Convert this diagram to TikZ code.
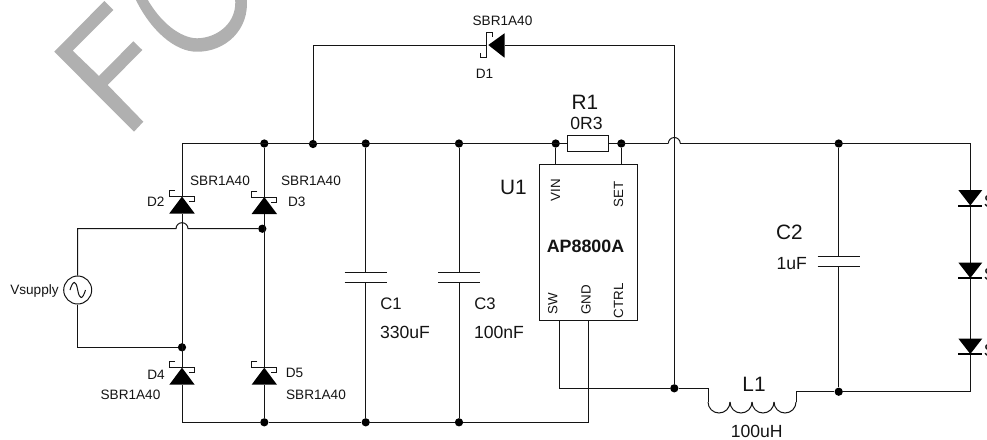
\documentclass[tikz,border=0pt]{standalone}
\usepackage{fontspec}
\setmainfont{Liberation Sans}
\definecolor{wm}{RGB}{176,176,176}
\definecolor{ink}{RGB}{20,20,20}
\tikzset{
 wire/.style={draw=ink,line width=0.75pt},
 dotj/.style={circle,fill=black,inner sep=0pt,minimum size=6.2pt},
 lab/.style={inner sep=0pt,text=ink},
 fs/.style={font=\fontsize{10.2}{12}\selectfont},
 fm/.style={font=\fontsize{13.2}{15}\selectfont},
 fl/.style={font=\fontsize{15.6}{18}\selectfont},
 fp/.style={font=\fontsize{10}{12}\selectfont,rotate=90},
}
\newcommand{\schdown}[2]{%
 \fill[black] (#1,#2) -- (#1+12.7,#2+17) -- (#1-12.7,#2+17) -- cycle;
 \draw[wire] (#1-7,#2-6) -- (#1-12.5,#2-6) -- (#1-12.5,#2) -- (#1+12.5,#2) -- (#1+12.5,#2+5) -- (#1+7,#2+5);
}
\newcommand{\led}[2]{%
 \fill[black] (#1-12,#2) -- (#1+12,#2) -- (#1,#2+15.5) -- cycle;
 \draw[black,line width=1.5pt] (#1-12,#2+15.7) -- (#1+12,#2+15.7);
}
\newcommand{\capv}[3]{%
 \draw[wire] (#1-21,#2) -- (#1+21,#2) (#1-21,#3) -- (#1+21,#3);
}
\begin{document}
\begin{tikzpicture}[x=0.75pt,y=-0.75pt]
\useasboundingbox (0,0) rectangle (987,439);
\begin{scope}
\clip (0,0) rectangle (987,439);
% watermark
\fill[wm] (104.3,1) -- (113.3,10) -- (72.7,50.7) -- (99,76) -- (133.3,41.3) -- (142.3,50) -- (107.7,85) -- (143.3,121.7) -- (134,131.7) -- (54.3,51.7) -- cycle;
\fill[wm,even odd rule] (135,-2) .. controls (150,30) and (175,52) .. (197,51.7) .. controls (225,52) and (250,30) .. (246.7,-2) -- cycle
 (146.7,-2) .. controls (160,22) and (180,38) .. (197,38.3) .. controls (218,38) and (238,22) .. (235,-2) -- cycle;
% nodes
\coordinate (tl) at (182,143.5);
\coordinate (bl) at (182,422.3);
\coordinate (tr) at (970.3,143.5);
\node[dotj] (j1) at (264.3,143.5) {};
\node[dotj] (j2) at (313,144) {};
\node[dotj] (j3) at (365.7,143.5) {};
\node[dotj] (j4) at (459,143.5) {};
\node[dotj] (j5) at (555.7,143.5) {};
\node[dotj] (j6) at (621.3,143.5) {};
\node[dotj] (j7) at (838.7,143.5) {};
\node[dotj] (j8) at (262.3,228.7) {};
\node[dotj] (j9) at (182,347.3) {};
\node[dotj] (j10) at (264.3,422.3) {};
\node[dotj] (j11) at (365.7,422.3) {};
\node[dotj] (j12) at (459,422.3) {};
\node[dotj] (j13) at (674.3,388.3) {};
\node[dotj] (j14) at (838.7,391.7) {};
\node[draw=ink,line width=0.75pt,minimum width=73.8pt,minimum height=117pt,inner sep=0pt] (u1) at (588.3,242) {};
\node[circle,draw=ink,line width=0.75pt,minimum size=21pt,inner sep=0pt] (vs) at (77.7,290) {};
\draw[wire] (70,290) .. controls (73,280) and (76,280) .. (77.7,290) .. controls (79.5,300) and (82.5,300) .. (85.5,290);
% rails
\draw[wire] (182,197) -- (tl) -- (tr) -- (970.3,190);
\fill[white] (666,136) rectangle (682,146);
\draw[wire] (668.3,143.5) -- (666,143.5) (680.3,143.5) -- (682,143.5);
\draw[wire] (668.3,143.5) arc[start angle=180,end angle=360,radius=6];
\node[draw=ink,line width=0.75pt,fill=white,minimum width=30.7pt,minimum height=12pt,inner sep=0pt] (r1) at (587.8,143.5) {};
\draw[wire] (970.3,205) -- (970.3,262.5) (970.3,278) -- (970.3,339) (970.3,354) -- (970.3,391.7) -- (j14) -- (796,391.7) -- (796,402);
\foreach \i in {0,1,2,3} \draw[wire] (796-\i*22,402) arc[start angle=0,end angle=180,radius=11];
\draw[wire] (708,402) -- (708,388.3) -- (j13) -- (559.3,388.3) -- (559.3,320);
\draw[wire] (588.3,320) -- (588.3,422.3) -- (j12) -- (j11) -- (j10) -- (bl) -- (182,384.5);
\draw[wire] (j13) -- (674.3,45) -- (504.7,45);
\draw[wire] (j2) -- (313,45) -- (487,45);
\draw[wire] (j5) -- (555.7,164) (j6) -- (621.3,164);
\draw[wire] (j1) -- (264.3,197) (264.3,214) -- (264.3,368);
\draw[wire] (182,214) -- (182,368);
\draw[wire] (j10) -- (264.3,384.5);
\draw[wire] (vs) -- (77.7,228.7) -- (176,228.7) arc[start angle=180,end angle=360,radius=6] -- (j8);
\draw[wire] (vs) -- (77.7,347.3) -- (j9);
\draw[wire] (j3) -- (365.7,272.3) (365.7,282.3) -- (j11);
\draw[wire] (j4) -- (459,272) (459,282) -- (j12);
\draw[wire] (j7) -- (838.7,256.7) (838.7,266.7) -- (j14);
% symbols
\schdown{182}{196.5}
\schdown{264.3}{197}
\schdown{182}{367.7}
\schdown{264.3}{367.7}
\capv{365.7}{272.3}{282.3}
\capv{459}{272}{282}
\capv{838.7}{256.7}{266.7}
\led{970.3}{190}
\led{970.3}{262.5}
\led{970.3}{338.5}
% D1
\fill[black] (488.3,45) -- (504.5,33.3) -- (504.5,57.7) -- cycle;
\draw[wire] (492.3,36.7) -- (492.3,32.3) -- (486.7,32.3) -- (486.7,57.7) -- (480.7,57.7) -- (480.7,53.3);
% labels
\node[lab,fs] (l1) at (502.5,20.5) {SBR1A40};
\node[lab,fs] (l2) at (484.5,74) {D1};
\node[lab,fs] (l3) at (220,181) {SBR1A40};
\node[lab,fs] (l4) at (311,181) {SBR1A40};
\node[lab,fs] (l5) at (155.7,202) {D2};
\node[lab,fs] (l6) at (296.7,202) {D3};
\node[lab,fs] (l7) at (156,375) {D4};
\node[lab,fs] (l8) at (294.5,372.7) {D5};
\node[lab,fs] (l9) at (130.5,394.7) {SBR1A40};
\node[lab,fs] (l10) at (316,394.7) {SBR1A40};
\node[lab,fs] (l11) at (34.5,291) {Vsupply};
\node[lab,fl] (l12) at (585,102) {R1};
\node[lab,fm] (l13) at (586.5,123) {0R3};
\node[lab,fl] (l14) at (513.5,187.5) {U1};
\node[lab,font=\bfseries\fontsize{13.4}{15}\selectfont] (l15) at (585.5,246) {AP8800A};
\node[lab,fp] (p1) at (555.5,190) {VIN};
\node[lab,fp] (p2) at (618.5,194.7) {SET};
\node[lab,fp] (p3) at (552.8,303.7) {SW};
\node[lab,fp] (p4) at (586,299.7) {GND};
\node[lab,fp] (p5) at (618.5,300.7) {CTRL};
\node[lab,font=\fontsize{12.5}{15}\selectfont] (l16) at (391,304) {C1};
\node[lab,font=\fontsize{12.5}{15}\selectfont] (l17) at (485,304) {C3};
\node[lab,fm] (l18) at (405,332) {330uF};
\node[lab,fm] (l19) at (499,332) {100nF};
\node[lab,fl] (l20) at (789.5,232.5) {C2};
\node[lab,fm] (l21) at (791.7,264) {1uF};
\node[lab,fl] (l22) at (754,384) {L1};
\node[lab,fm] (l23) at (756.7,431) {100uH};
\node[lab,fm,anchor=west] (s1) at (983.5,201.5) {S};
\node[lab,fm,anchor=west] (s2) at (983.5,274.5) {S};
\node[lab,fm,anchor=west] (s3) at (983.5,350) {S};
\end{scope}
\end{tikzpicture}
\end{document}
